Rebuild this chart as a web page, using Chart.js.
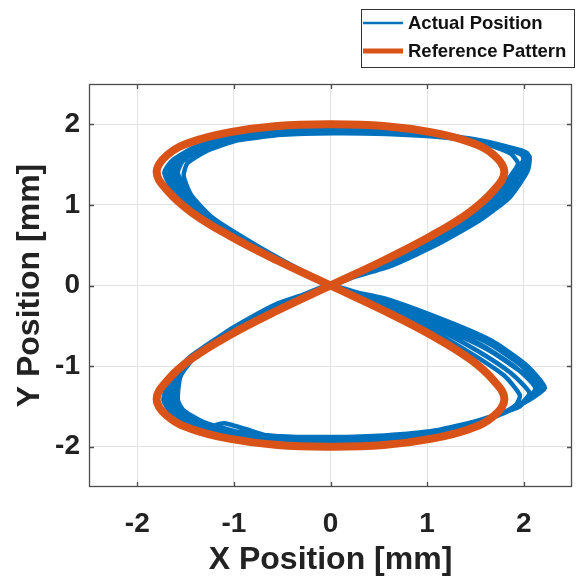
<!DOCTYPE html>
<html>
<head>
<meta charset="utf-8">
<script src="https://cdn.jsdelivr.net/npm/chart.js@4.4.1/dist/chart.umd.min.js"></script>
<style>
  html,body{margin:0;padding:0;background:#fff;}
  #wrap{width:577px;height:579px;}
</style>
</head>
<body>
<div id="wrap"><canvas id="chart" width="577" height="579"></canvas></div>
<script>
// tick labels
const xTicks = [-2, -1, 0, 1, 2];
const yTicks = [-2, -1, 0, 1, 2];

// reference figure-eight
const refX = [0, 0.55, 1.05, 1.44, 1.69, 1.80, 1.69, 1.44, 1.05, 0.55, 0, -0.55, -1.05, -1.44, -1.69, -1.80, -1.69, -1.44, -1.05, -0.55,
              0, 0.55, 1.05, 1.44, 1.69, 1.80, 1.69, 1.44, 1.05, 0.55, 0, -0.55, -1.05, -1.44, -1.69, -1.80, -1.69, -1.44, -1.05, -0.55, 0];
const refY = [0, 0.31, 0.62, 0.91, 1.18, 1.41, 1.62, 1.78, 1.90, 1.98, 2.00, 1.98, 1.90, 1.78, 1.62, 1.41, 1.18, 0.91, 0.62, 0.31,
              0, -0.31, -0.62, -0.91, -1.18, -1.41, -1.62, -1.78, -1.90, -1.98, -2.00, -1.98, -1.90, -1.78, -1.62, -1.41, -1.18, -0.91, -0.62, -0.31, 0];

// measured trajectory, one array per cycle (blue)
const runA = [[0.01,0.00],[0.57,0.29],[1.04,0.60],[1.45,0.89],[1.74,1.17],[1.90,1.42],[1.94,1.52],[1.86,1.64],[1.52,1.79],[1.08,1.89],[0.55,1.93],
  [0.00,1.94],[-0.55,1.92],[-1.03,1.85],[-1.40,1.72],[-1.63,1.56],[-1.72,1.40],[-1.62,1.16],[-1.38,0.89],[-0.98,0.60],[-0.50,0.29],
  [0.00,0.01],[0.56,-0.28],[1.06,-0.57],[1.48,-0.86],[1.80,-1.12],[1.96,-1.36],[1.92,-1.48],[1.76,-1.60],[1.46,-1.74],[1.05,-1.86],[0.55,-1.92],
  [0.00,-1.93],[-0.55,-1.92],[-1.02,-1.86],[-1.40,-1.74],[-1.64,-1.59],[-1.73,-1.42],[-1.66,-1.16],[-1.45,-0.88],[-1.08,-0.59],[-0.57,-0.29]];
const runB = [[-0.01,0.01],[0.60,0.27],[1.09,0.57],[1.51,0.85],[1.81,1.13],[1.98,1.40],[2.03,1.56],[1.93,1.67],[1.60,1.78],[1.12,1.86],[0.56,1.90],
  [0.02,1.91],[-0.53,1.89],[-1.00,1.82],[-1.34,1.69],[-1.56,1.53],[-1.62,1.38],[-1.52,1.14],[-1.29,0.86],[-0.90,0.57],[-0.44,0.27],
  [0.02,-0.01],[0.58,-0.22],[1.12,-0.48],[1.58,-0.75],[1.92,-1.02],[2.12,-1.27],[2.02,-1.44],[1.84,-1.56],[1.50,-1.70],[1.06,-1.83],[0.55,-1.89],
  [0.01,-1.91],[-0.55,-1.90],[-1.00,-1.83],[-1.36,-1.71],[-1.58,-1.57],[-1.66,-1.42],[-1.61,-1.14],[-1.41,-0.85],[-1.05,-0.56],[-0.57,-0.26]];
const runC = [[0.00,0.02],[0.62,0.24],[1.14,0.53],[1.56,0.82],[1.86,1.10],[2.04,1.42],[2.06,1.60],[1.96,1.68],[1.64,1.76],[1.15,1.84],[0.58,1.88],
  [0.03,1.89],[-0.50,1.87],[-0.96,1.80],[-1.28,1.67],[-1.48,1.52],[-1.52,1.36],[-1.44,1.12],[-1.22,0.84],[-0.84,0.55],[-0.40,0.25],
  [0.03,-0.02],[0.56,-0.16],[1.16,-0.42],[1.66,-0.68],[2.02,-0.98],[2.22,-1.27],[2.08,-1.40],[1.90,-1.52],[1.54,-1.67],[1.08,-1.80],[0.56,-1.86],
  [0.02,-1.88],[-0.53,-1.87],[-0.98,-1.81],[-1.32,-1.69],[-1.52,-1.55],[-1.58,-1.42],[-1.55,-1.12],[-1.36,-0.83],[-1.02,-0.53],[-0.56,-0.23]];
const runD = [[0.02,0.00],[0.58,0.28],[1.07,0.58],[1.49,0.87],[1.79,1.15],[1.95,1.38],[2.00,1.50],[1.98,1.62],[1.62,1.77],[1.10,1.87],[0.54,1.92],
  [-0.01,1.92],[-0.56,1.90],[-1.02,1.83],[-1.37,1.70],[-1.58,1.55],[-1.66,1.42],[-1.58,1.18],[-1.34,0.88],[-0.94,0.58],[-0.46,0.28],
  [0.00,0.00],[0.59,-0.25],[1.14,-0.52],[1.62,-0.79],[1.96,-1.06],[2.16,-1.25],[2.05,-1.38],[1.96,-1.50],[1.52,-1.69],[1.10,-1.84],[0.58,-1.90],
  [0.04,-1.92],[-0.50,-1.91],[-1.10,-1.71],[-1.30,-1.76],[-1.56,-1.62],[-1.70,-1.45],[-1.64,-1.18],[-1.44,-0.89],[-1.08,-0.58],[-0.59,-0.28]];
const runE = [[-0.02,0.00],[0.55,0.30],[1.06,0.59],[1.47,0.88],[1.77,1.16],[1.93,1.44],[2.04,1.64],[1.90,1.70],[1.56,1.80],[1.06,1.88],[0.52,1.92],
  [0.00,1.93],[-0.58,1.91],[-1.05,1.84],[-1.42,1.71],[-1.60,1.54],[-1.68,1.36],[-1.56,1.12],[-1.33,0.85],[-0.95,0.58],[-0.48,0.30],
  [-0.01,0.02],[0.60,-0.20],[1.18,-0.46],[1.64,-0.72],[1.98,-1.00],[2.18,-1.30],[2.00,-1.46],[1.80,-1.58],[1.48,-1.72],[1.02,-1.85],[0.52,-1.90],
  [-0.02,-1.92],[-0.57,-1.91],[-1.04,-1.84],[-1.38,-1.73],[-1.60,-1.58],[-1.69,-1.40],[-1.63,-1.16],[-1.43,-0.87],[-1.06,-0.57],[-0.56,-0.27]];
const runF = [[0.00,0.01],[0.59,0.26],[1.10,0.56],[1.53,0.84],[1.83,1.12],[2.00,1.46],[2.05,1.58],[1.94,1.65],[1.58,1.79],[1.12,1.88],[0.57,1.91],
  [0.01,1.92],[-0.54,1.90],[-1.01,1.83],[-1.36,1.70],[-1.53,1.54],[-1.58,1.40],[-1.49,1.16],[-1.26,0.87],[-0.88,0.57],[-0.43,0.26],
  [0.01,0.00],[0.57,-0.24],[1.09,-0.53],[1.52,-0.81],[1.86,-1.08],[2.06,-1.33],[1.98,-1.46],[1.86,-1.54],[1.52,-1.70],[1.07,-1.84],[0.56,-1.90],
  [0.00,-1.91],[-0.54,-1.90],[-1.00,-1.84],[-1.34,-1.72],[-1.55,-1.57],[-1.62,-1.43],[-1.58,-1.14],[-1.38,-0.86],[-1.03,-0.55],[-0.56,-0.25],[0.00,0.00]];

const BLUE = '#0072BD', ORANGE = '#D95319';
const FONT = "'Liberation Sans', Arial, sans-serif";

const actualPts = [].concat(runA, runB, runC, runD, runE, runF).map(([x,y])=>({x, y}));
const refPts = refX.map((x,i)=>({x, y: refY[i]}));

// box outline + inward tick marks, MATLAB style
const boxPlugin = {
  id: 'box',
  afterDraw(c){
    const {ctx, chartArea:a, scales:{x, y}} = c;
    ctx.save();
    ctx.strokeStyle = '#4d4d4d';
    ctx.lineWidth = 1.3;
    ctx.strokeRect(a.left+0.5, a.top+0.5, a.right-a.left-1, a.bottom-a.top-1);
    ctx.beginPath();
    xTicks.forEach(v=>{
      const px = Math.round(x.getPixelForValue(v))+0.5;
      ctx.moveTo(px, a.bottom); ctx.lineTo(px, a.bottom-5);
      ctx.moveTo(px, a.top); ctx.lineTo(px, a.top+5);
    });
    yTicks.forEach(v=>{
      const py = Math.round(y.getPixelForValue(v))+0.5;
      ctx.moveTo(a.left, py); ctx.lineTo(a.left+5, py);
      ctx.moveTo(a.right, py); ctx.lineTo(a.right-5, py);
    });
    ctx.stroke();
    ctx.restore();
  }
};

// boxed legend above the top right corner
const legendPlugin = {
  id: 'boxLegend',
  afterDraw(c){
    const ctx = c.ctx;
    const L = 361, T = 9, W = 213, H = 58;
    ctx.save();
    ctx.fillStyle = '#fff';
    ctx.fillRect(L, T, W, H);
    ctx.strokeStyle = '#333';
    ctx.lineWidth = 1;
    ctx.strokeRect(L+0.5, T+0.5, W, H);
    ctx.font = "bold 18.5px " + FONT;
    ctx.textBaseline = 'middle';
    const rows = [c.data.datasets[1], c.data.datasets[0]];
    rows.forEach((ds, i)=>{
      const yy = T + 14 + i*28;
      ctx.strokeStyle = ds.borderColor;
      ctx.lineWidth = i ? 5 : 2.5;
      ctx.beginPath(); ctx.moveTo(L+2, yy); ctx.lineTo(L+42, yy); ctx.stroke();
      ctx.fillStyle = '#111';
      ctx.fillText(ds.label, L+47, yy+1);
    });
    ctx.restore();
  }
};

new Chart(document.getElementById('chart'), {
  type: 'scatter',
  data: {
    datasets: [
      { label: 'Reference Pattern', data: refPts, showLine: true, borderColor: ORANGE, backgroundColor: ORANGE,
        borderWidth: 8, pointRadius: 0, tension: 0.4, borderJoinStyle: 'round', order: 1 },
      { label: 'Actual Position', data: actualPts, showLine: true, borderColor: BLUE, backgroundColor: BLUE,
        borderWidth: 4.5, pointRadius: 0, tension: 0.2, borderJoinStyle: 'round', order: 2 }
    ]
  },
  options: {
    responsive: false,
    animation: false,
    layout: { padding: { top: 84, right: 5, left: 0, bottom: 0 } },
    plugins: { legend: { display: false }, tooltip: { enabled: false } },
    scales: {
      x: {
        min: -2.5, max: 2.5,
        afterBuildTicks: s => { s.ticks = xTicks.map(v=>({value: v})); },
        afterFit: s => { s.height = 92; },
        grid: { color: '#e2e2e2', drawTicks: false },
        border: { display: false },
        ticks: { color: '#222', padding: 20, font: { family: FONT, size: 28, weight: 'bold' } },
        title: { display: true, text: 'X Position [mm]', color: '#222', padding: { top: 0, bottom: 0 },
                 font: { family: FONT, size: 32, weight: 'bold' } }
      },
      y: {
        min: -2.5, max: 2.5,
        afterBuildTicks: s => { s.ticks = yTicks.map(v=>({value: v})); },
        afterFit: s => { s.width = 89; },
        grid: { color: '#e2e2e2', drawTicks: false },
        border: { display: false },
        ticks: { color: '#222', padding: 9, font: { family: FONT, size: 28, weight: 'bold' } },
        title: { display: true, text: 'Y Position [mm]', color: '#222', padding: { top: 11, bottom: 0 },
                 font: { family: FONT, size: 32, weight: 'bold' } }
      }
    }
  },
  plugins: [boxPlugin, legendPlugin]
});
</script>
</body>
</html>
